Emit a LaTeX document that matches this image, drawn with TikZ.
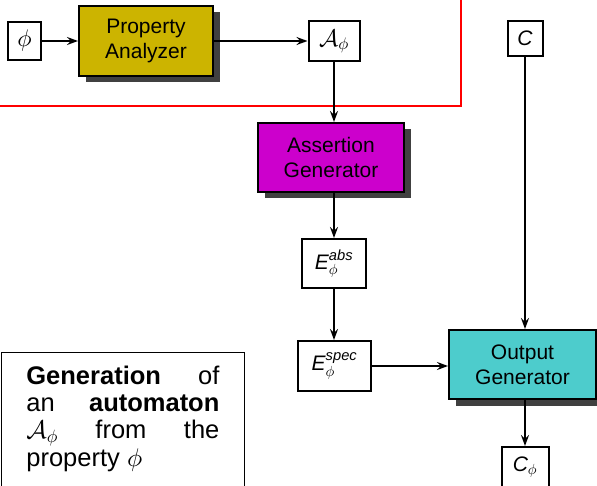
\documentclass[tikz,border=0pt]{standalone}
\usepackage{amsmath}
\usepackage{fontspec}
\setmainfont{Liberation Sans}
\usetikzlibrary{arrows.meta,shadows}

% scalable math fonts so that symbols follow the large text sizes
\DeclareFontShape{OML}{cmm}{m}{it}{<-7.5>cmmi5 <7.5-11>cmmi7 <11->cmmi10}{}
\DeclareFontShape{OMS}{cmsy}{m}{n}{<-7.5>cmsy5 <7.5-11>cmsy7 <11->cmsy10}{}

\definecolor{analyzerFill}{RGB}{204,180,0}
\definecolor{assertFill}{RGB}{204,0,204}
\definecolor{outputFill}{RGB}{77,204,204}
\definecolor{shadowGray}{RGB}{64,64,64}

\tikzset{
  flow/.style={draw=black, line width=1.7pt, -{Stealth[length=11pt,width=8pt,inset=4pt]}},
  smallbox/.style={draw=black, line width=2pt, fill=white, inner sep=0pt},
  mathbox/.style={smallbox, font=\fontsize{24}{28}\selectfont},
  stage/.style={draw=black, line width=2pt, inner sep=0pt, align=center,
    minimum height=69pt,
    general shadow={shadow xshift=6.5pt, shadow yshift=-6.5pt, fill=shadowGray}},
}

\begin{document}
\begin{tikzpicture}[x=1pt, y=-1pt, font=\fontsize{21}{25}\selectfont]
\useasboundingbox (0,0) rectangle (597,486);

% region boundary
\draw[red, line width=2pt] (0,106) -- (461,106) -- (461,-5);

% inputs and intermediate artefacts
\node[mathbox, minimum width=33pt, minimum height=38pt] (phi) at (24.5,41) {$\phi$};
\node[mathbox, minimum width=51pt, minimum height=40pt] (Aphi) at (334,41.5) {$\mathcal{A}_\phi$};
\node[smallbox, minimum width=64pt, minimum height=49pt] (Eabs) at (334,263.5) {$\textit{E}^{\textit{abs}}_{\phi}$};
\node[smallbox, minimum width=73pt, minimum height=50pt] (Espec) at (334.5,366) {$\textit{E}^{\textit{spec}}_{\phi}$};
\node[smallbox, minimum width=35pt, minimum height=35pt] (C) at (525,38.5) {\textit{C}};
\node[smallbox, minimum width=47pt, minimum height=40pt] (Cphi) at (525,467) {$\textit{C}_\phi$};

% processing stages
\node[stage, fill=analyzerFill, minimum width=134pt, minimum height=70pt] (PA) at (146,41) {Property\\Analyzer};
\node[stage, fill=assertFill, minimum width=146pt] (AG) at (331,157.5) {Assertion\\Generator};
\node[stage, fill=outputFill, minimum width=147pt] (OG) at (522.5,364.5) {Output\\Generator};

% connectors
\draw[flow] (phi) -- (phi -| PA.west);
\draw[flow] (PA) -- (PA -| Aphi.west);
\draw[flow] (Aphi.south) -- (Aphi.south |- AG.north);
\draw[flow] (Eabs.north |- AG.south) -- (Eabs.north);
\draw[flow] (Eabs.south) -- (Espec.north -| Eabs.south);
\draw[flow] (Espec) -- (Espec -| OG.west);
\draw[flow] (C.south) -- (C.south |- OG.north);
\draw[flow] (C.south |- OG.south) -- (Cphi.north);

% caption box, running past the lower edge (deep strut on the last line)
\node[draw=black, line width=1.4pt, fill=white, anchor=north west,
      text width=193pt, align=justify, inner xsep=25pt, inner ysep=13pt,
      font=\fontsize{25.5}{27.3}\selectfont] (caption) at (0.7,352)
  {\textbf{Generation} of\linebreak an \textbf{automaton}\linebreak $\mathcal{A}_\phi$ from the\linebreak property $\phi$\rule[-60pt]{0pt}{60pt}};
\end{tikzpicture}
\end{document}
